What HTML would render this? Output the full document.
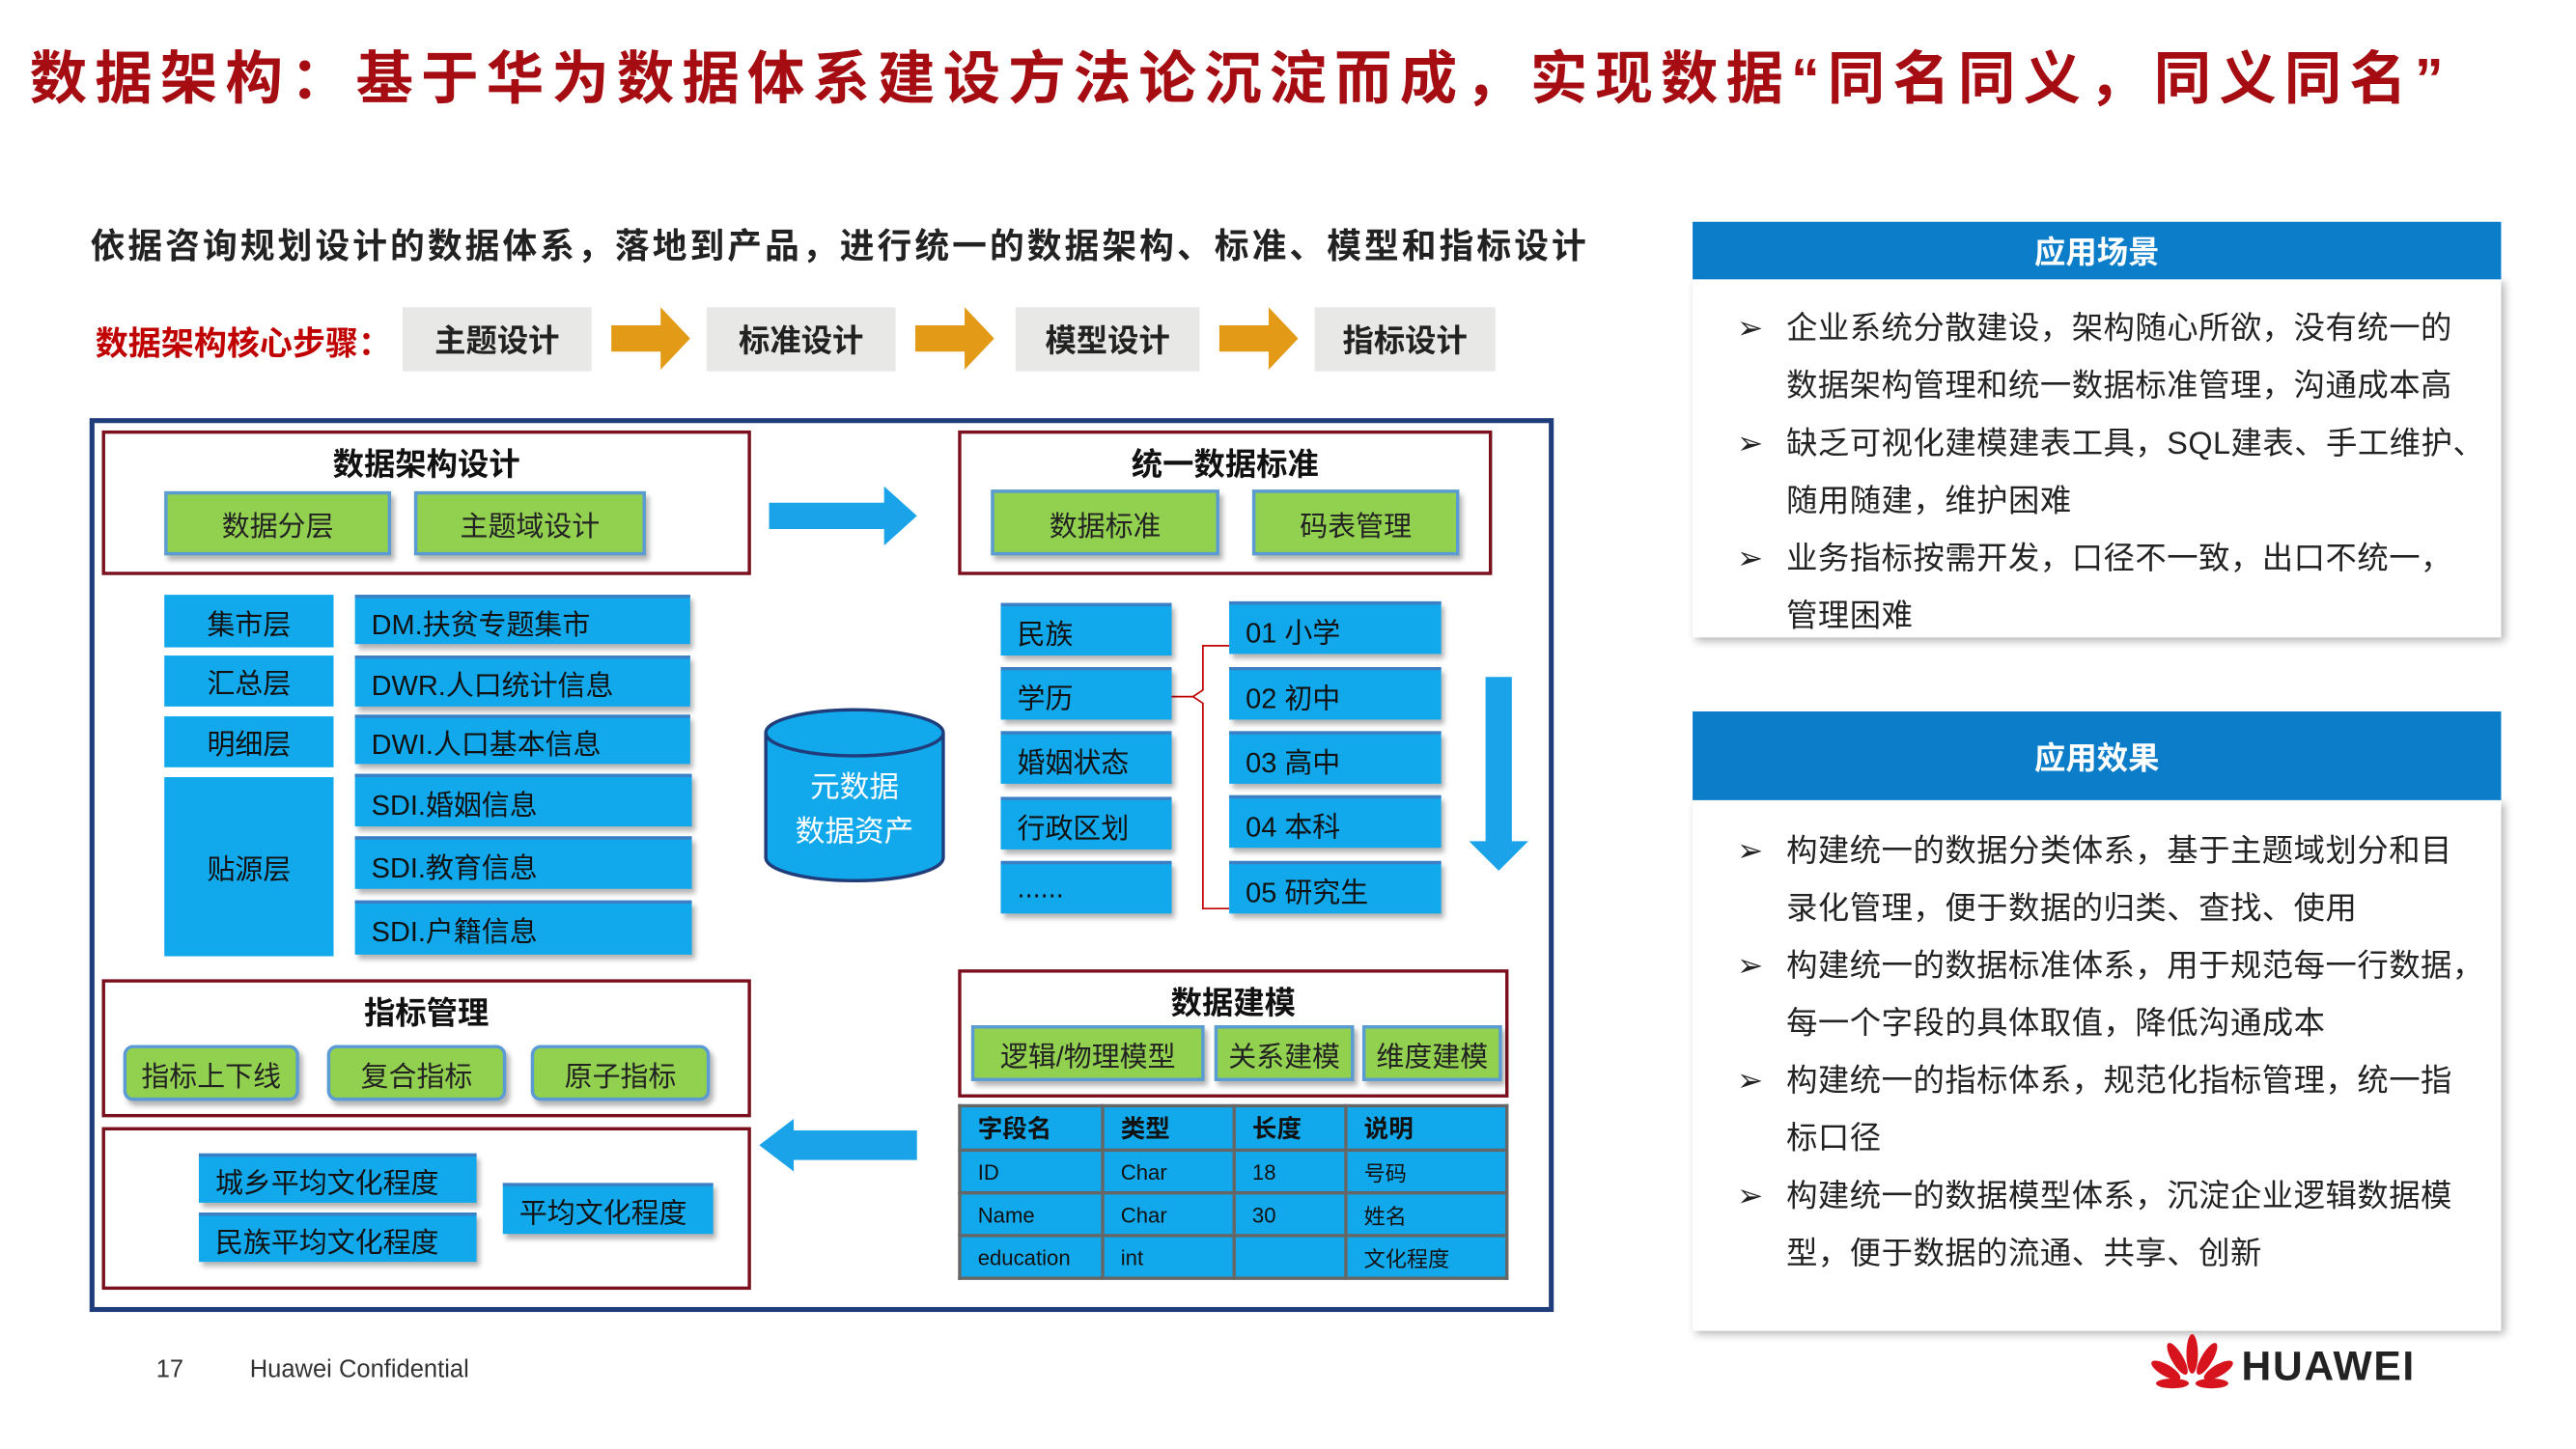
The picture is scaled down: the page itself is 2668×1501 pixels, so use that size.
<!DOCTYPE html>
<html><head><meta charset="utf-8"><style>
html,body{margin:0;padding:0;background:#fff;}
body{width:2668px;height:1500px;overflow:hidden;position:relative;}
#s{position:absolute;left:0;top:0;width:1568px;height:882px;transform:scale(1.702);transform-origin:0 0;font-family:"Liberation Sans","Noto Sans CJK SC",sans-serif;}
.a{position:absolute;box-sizing:border-box;}
.t{display:flex;align-items:center;justify-content:center;}
.g{background:#92d050;border:2px solid #5b9bd5;box-shadow:2px 3px 3px rgba(0,0,0,.3);font-size:17px;color:#222;}
.gr{border-radius:6px;}
.b{background:#12a8ec;border-top:2px solid #3d7fc4;box-shadow:2px 3px 3px rgba(0,0,0,.3);font-size:17px;color:#111;padding-left:10px;display:flex;align-items:center;}
.bc{background:#12a8ec;font-size:17px;color:#111;}
.rb{border:2px solid #7a0f1e;}
.h{font-weight:bold;font-size:19px;text-align:center;color:#111;}
.gray{background:#e8e8e6;font-weight:bold;font-size:19px;color:#222;}
.txt{font-size:19px;color:#222;line-height:35px;letter-spacing:0.3px;white-space:nowrap;}
.li{position:absolute;left:20px;}
td{border:2px solid #666;padding:0 0 0 10px;font-size:13px;color:#111;background:#12a8ec;height:24px;}
</style></head><body><div id="s">
<div class="a" style="left:18px;top:20px;font-size:35px;font-weight:bold;color:#a50d12;white-space:nowrap;letter-spacing:4.7px;">数据架构：基于华为数据体系建设方法论沉淀而成，实现数据“同名同义，同义同名”</div>
<div class="a" style="left:55px;top:134px;font-size:21px;font-weight:bold;color:#222;white-space:nowrap;letter-spacing:1.8px;">依据咨询规划设计的数据体系，落地到产品，进行统一的数据架构、标准、模型和指标设计</div>
<div class="a" style="left:58px;top:193px;font-size:20px;font-weight:bold;color:#c00000;white-space:nowrap;">数据架构核心步骤：</div>
<div class="a t gray" style="left:245px;top:187px;width:115px;height:39px;">主题设计</div>
<div class="a t gray" style="left:430px;top:187px;width:115px;height:39px;">标准设计</div>
<div class="a t gray" style="left:618px;top:187px;width:112px;height:39px;">模型设计</div>
<div class="a t gray" style="left:800px;top:187px;width:110px;height:39px;">指标设计</div>
<svg class="a" style="left:0;top:0" width="1568" height="882">
<g fill="#e39b17">
<polygon points="372,198 402,198 402,187 420,206 402,225 402,214 372,214"/>
<polygon points="557,198 587,198 587,187 605,206 587,225 587,214 557,214"/>
<polygon points="742,198 772,198 772,187 790,206 772,225 772,214 742,214"/>
</g>
<rect x="56" y="256" width="888" height="541" fill="none" stroke="#1f3d7a" stroke-width="3"/>
<g fill="#1aa3e8">
<polygon points="468,306 538,306 538,296 558,314 538,332 538,322 468,322"/>
<polygon points="558,688 483,688 483,681 462,697 483,713 483,706 558,706"/>
<polygon points="904,412 920,412 920,512 930,512 912,530 894,512 904,512"/>
</g>
<path d="M748,393 H732 V420 L726,424 L732,428 V553 H748" fill="none" stroke="#c00000" stroke-width="1"/>
<line x1="713" y1="424" x2="726" y2="424" stroke="#c00000" stroke-width="1"/>
<path d="M466,446 V522 A54,14 0 0 0 574,522 V446" fill="#12a8ec" stroke="#1f3d7a" stroke-width="2"/>
<ellipse cx="520" cy="446" rx="54" ry="14" fill="#12a8ec" stroke="#1f3d7a" stroke-width="2"/>
</svg>
<div class="a" style="left:466px;top:466px;width:108px;text-align:center;color:#fff;font-size:18px;line-height:27px;">元数据<br>数据资产</div>
<div class="a rb" style="left:62px;top:262px;width:395px;height:88px;"></div>
<div class="a h" style="left:62px;top:268px;width:395px;">数据架构设计</div>
<div class="a t g" style="left:100px;top:299px;width:138px;height:39px;">数据分层</div>
<div class="a t g" style="left:252px;top:299px;width:141px;height:39px;">主题域设计</div>
<div class="a rb" style="left:583px;top:262px;width:325px;height:88px;"></div>
<div class="a h" style="left:583px;top:268px;width:325px;">统一数据标准</div>
<div class="a t g" style="left:603px;top:298px;width:139px;height:40px;">数据标准</div>
<div class="a t g" style="left:762px;top:298px;width:126px;height:40px;">码表管理</div>
<div class="a t bc" style="left:100px;top:362px;width:103px;height:32px;">集市层</div>
<div class="a t bc" style="left:100px;top:399px;width:103px;height:31px;">汇总层</div>
<div class="a t bc" style="left:100px;top:436px;width:103px;height:31px;">明细层</div>
<div class="a t bc" style="left:100px;top:473px;width:103px;height:109px;">贴源层</div>
<div class="a b" style="left:216px;top:362px;width:204px;height:30px;">DM.扶贫专题集市</div>
<div class="a b" style="left:216px;top:399px;width:204px;height:31px;">DWR.人口统计信息</div>
<div class="a b" style="left:216px;top:435px;width:204px;height:30px;">DWI.人口基本信息</div>
<div class="a b" style="left:216px;top:471px;width:205px;height:32px;">SDI.婚姻信息</div>
<div class="a b" style="left:216px;top:509px;width:205px;height:32px;">SDI.教育信息</div>
<div class="a b" style="left:216px;top:548px;width:205px;height:33px;">SDI.户籍信息</div>
<div class="a b" style="left:609px;top:367px;width:104px;height:32px;">民族</div>
<div class="a b" style="left:609px;top:406px;width:104px;height:32px;">学历</div>
<div class="a b" style="left:609px;top:445px;width:104px;height:32px;">婚姻状态</div>
<div class="a b" style="left:609px;top:485px;width:104px;height:32px;">行政区划</div>
<div class="a b" style="left:609px;top:524px;width:104px;height:32px;">......</div>
<div class="a b" style="left:748px;top:366px;width:129px;height:32px;">01 小学</div>
<div class="a b" style="left:748px;top:406px;width:129px;height:32px;">02 初中</div>
<div class="a b" style="left:748px;top:445px;width:129px;height:32px;">03 高中</div>
<div class="a b" style="left:748px;top:484px;width:129px;height:32px;">04 本科</div>
<div class="a b" style="left:748px;top:524px;width:129px;height:32px;">05 研究生</div>
<div class="a rb" style="left:62px;top:596px;width:395px;height:84px;"></div>
<div class="a h" style="left:62px;top:602px;width:395px;">指标管理</div>
<div class="a t g gr" style="left:75px;top:636px;width:107px;height:34px;">指标上下线</div>
<div class="a t g gr" style="left:199px;top:636px;width:109px;height:34px;">复合指标</div>
<div class="a t g gr" style="left:323px;top:636px;width:109px;height:34px;">原子指标</div>
<div class="a rb" style="left:62px;top:686px;width:395px;height:99px;"></div>
<div class="a b" style="left:121px;top:702px;width:169px;height:30px;">城乡平均文化程度</div>
<div class="a b" style="left:121px;top:738px;width:169px;height:30px;">民族平均文化程度</div>
<div class="a b" style="left:306px;top:720px;width:128px;height:31px;">平均文化程度</div>
<div class="a rb" style="left:583px;top:590px;width:335px;height:78px;"></div>
<div class="a h" style="left:583px;top:596px;width:335px;">数据建模</div>
<div class="a t g" style="left:591px;top:624px;width:142px;height:34px;">逻辑/物理模型</div>
<div class="a t g" style="left:739px;top:624px;width:85px;height:34px;">关系建模</div>
<div class="a t g" style="left:829px;top:624px;width:85px;height:34px;">维度建模</div>
<table class="a" style="left:583px;top:672px;width:335px;border-collapse:collapse;">
<tr><td style="width:75px;font-weight:bold;font-size:15px;height:25px">字段名</td><td style="width:68px;font-weight:bold;font-size:15px">类型</td><td style="width:56px;font-weight:bold;font-size:15px">长度</td><td style="font-weight:bold;font-size:15px">说明</td></tr>
<tr><td>ID</td><td>Char</td><td>18</td><td>号码</td></tr>
<tr><td>Name</td><td>Char</td><td>30</td><td>姓名</td></tr>
<tr><td>education</td><td>int</td><td></td><td>文化程度</td></tr>
</table>
<div class="a" style="left:1030px;top:170px;width:492px;height:218px;box-shadow:2px 2px 5px rgba(0,0,0,.3);background:#fff;"></div>
<div class="a t" style="left:1030px;top:135px;width:492px;height:35px;background:#0b7dc9;color:#fff;font-weight:bold;font-size:19px;">应用场景</div>
<div class="a txt" style="left:1037px;top:183px;width:480px;">
<div style="position:relative;padding-left:50px;"><span class="li">➢</span>企业系统分散建设，架构随心所欲，没有统一的<br>数据架构管理和统一数据标准管理，沟通成本高</div>
<div style="position:relative;padding-left:50px;"><span class="li">➢</span>缺乏可视化建模建表工具，SQL建表、手工维护、<br>随用随建，维护困难</div>
<div style="position:relative;padding-left:50px;"><span class="li">➢</span>业务指标按需开发，口径不一致，出口不统一，<br>管理困难</div>
</div>
<div class="a" style="left:1030px;top:487px;width:492px;height:323px;box-shadow:2px 2px 5px rgba(0,0,0,.3);background:#fff;"></div>
<div class="a t" style="left:1030px;top:433px;width:492px;height:54px;background:#0b7dc9;color:#fff;font-weight:bold;font-size:19px;">应用效果</div>
<div class="a txt" style="left:1037px;top:501px;width:480px;">
<div style="position:relative;padding-left:50px;"><span class="li">➢</span>构建统一的数据分类体系，基于主题域划分和目<br>录化管理，便于数据的归类、查找、使用</div>
<div style="position:relative;padding-left:50px;"><span class="li">➢</span>构建统一的数据标准体系，用于规范每一行数据，<br>每一个字段的具体取值，降低沟通成本</div>
<div style="position:relative;padding-left:50px;"><span class="li">➢</span>构建统一的指标体系，规范化指标管理，统一指<br>标口径</div>
<div style="position:relative;padding-left:50px;"><span class="li">➢</span>构建统一的数据模型体系，沉淀企业逻辑数据模<br>型，便于数据的流通、共享、创新</div>
</div>
<div class="a" style="left:95px;top:825px;font-size:15px;color:#333;">17</div>
<div class="a" style="left:152px;top:825px;font-size:15px;color:#333;">Huawei Confidential</div>
<svg class="a" style="left:1308px;top:812px" width="52" height="40">
<g fill="#d7141d">
<ellipse cx="26" cy="12" rx="3.5" ry="12"/>
<ellipse cx="17" cy="15" rx="3.5" ry="11" transform="rotate(-30 17 15)"/>
<ellipse cx="35" cy="15" rx="3.5" ry="11" transform="rotate(30 35 15)"/>
<ellipse cx="10" cy="22" rx="3.5" ry="10" transform="rotate(-60 10 22)"/>
<ellipse cx="42" cy="22" rx="3.5" ry="10" transform="rotate(60 42 22)"/>
<ellipse cx="14" cy="30" rx="10" ry="3"/>
<ellipse cx="38" cy="30" rx="10" ry="3"/>
</g></svg>
<div class="a" style="left:1364px;top:818px;font-size:25px;font-weight:bold;color:#222;letter-spacing:1px;">HUAWEI</div>
</div></body></html>
